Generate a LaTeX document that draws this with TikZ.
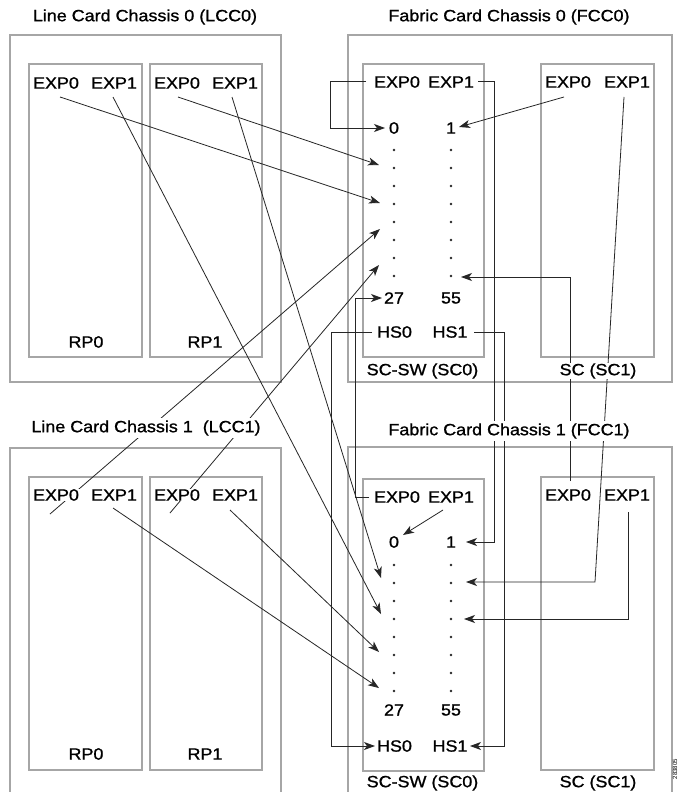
\documentclass[tikz,border=0pt]{standalone}
\usepackage{fontspec}
\setmainfont{Liberation Sans}
\newfontfamily\hvfont{Liberation Sans}[FakeBold=1]
\usetikzlibrary{arrows.meta}
\newcommand{\Wd}[1]{\scalebox{1.1}[1]{#1}}
\tikzset{
  box/.style={draw=gray!70, line width=1.2pt},
  wire/.style={draw=black!85, line width=0.8pt},
  arr/.style={wire, -{Stealth[length=11pt,width=8pt,inset=3pt]}},
  lbl/.style={fill=white, inner sep=0.6pt, font=\hvfont\fontsize{16.3}{19}\selectfont, text=black},
  ttl/.style={lbl, inner sep=2pt},
  portdot/.style={fill=black!85}
}
\begin{document}
\begin{tikzpicture}[x=1pt,y=-1pt]
\useasboundingbox (0,0) rectangle (684,792);
\fill[white] (0,0) rectangle (684,792);

% ---------- boxes ----------
\draw[box] (10,35) rectangle (281,382);
\draw[box] (29,64) rectangle (142,357);
\draw[box] (150,64) rectangle (262,357);
\draw[box] (348,35) rectangle (672,382);
\draw[box] (363,64) rectangle (484,357);
\draw[box] (541,64) rectangle (654,357);
\draw[box] (10,800) -- (10,448) -- (281,448) -- (281,800);
\draw[box] (29,477) rectangle (142,770);
\draw[box] (150,477) rectangle (262,770);
\draw[box] (348,800) -- (348,447) -- (672,447) -- (672,800);
\draw[box] (363,479) rectangle (484,771);
\draw[box] (541,477) rectangle (654,770);

% ---------- port dots ----------
\foreach \y in {150,168,...,276} {
  \fill[portdot] (394,\y) circle (1.3);
  \fill[portdot] (451,\y) circle (1.3);
}
\foreach \y in {565,583,...,691} {
  \fill[portdot] (394,\y) circle (1.3);
  \fill[portdot] (451,\y) circle (1.3);
}

% ---------- connector end points ----------
% LCC0 sources
\coordinate (a00) at (60,97);
\coordinate (a01) at (113,97);
\coordinate (a10) at (178,97);
\coordinate (a11) at (232,97);
% LCC1 sources
\coordinate (b00) at (50,514);
\coordinate (b01) at (113,508);
\coordinate (b10) at (170,513);
\coordinate (b11) at (230,510);
% FCC0 SC0 ports
\coordinate (p0) at (385,128);
\coordinate (pA) at (379,165);
\coordinate (pB) at (380,203);
\coordinate (pC) at (380,229);
\coordinate (pD) at (379,265);
\coordinate (p27) at (382,298);
\coordinate (p1) at (459,127);
\coordinate (pE) at (461,277);
% FCC1 SC0 ports
\coordinate (q0) at (403,535);
\coordinate (qA) at (381,578);
\coordinate (qB) at (381,614);
\coordinate (qC) at (379,652);
\coordinate (qD) at (379,688);
\coordinate (qhs0) at (375,746);
\coordinate (q1) at (466,542);
\coordinate (qE) at (466,582);
\coordinate (qF) at (464,619);
\coordinate (qhs1) at (470,746);
% FCC sources
\coordinate (f0e0) at (366,81);
\coordinate (f0e1) at (478,81);
\coordinate (f0s0) at (564,97);
\coordinate (f0s1) at (624,97);
\coordinate (f0s1b) at (595,582);
\coordinate (h00) at (372,332);
\coordinate (h01) at (474,332);
\coordinate (f1e0) at (369,497);
\coordinate (f1e1) at (443,510);
\coordinate (f1s0) at (570,481);
\coordinate (f1s1) at (628,512);

% ---------- connectors ----------
\draw[arr] (a10) -- (pA);
\draw[arr] (a00) -- (pB);
\draw[arr] (b00) -- (pC);
\draw[arr] (b10) -- (pD);
\draw[arr] (a11) -- (qA);
\draw[arr] (a01) -- (qB);
\draw[arr] (b11) -- (qC);
\draw[arr] (b01) -- (qD);

\draw[arr] (f0e0) -- ++(-36,0) |- (p0);
\draw[arr] (f0e1) -- ++(16,0) |- (q1);
\draw[arr] (f0s0) -- (p1);
\draw[arr] (f0s1) -- (f0s1b) -- (qE);
\draw[arr] (h00) -- ++(-41,0) |- (qhs0);
\draw[arr] (h01) -- ++(30,0) |- (qhs1);
\draw[arr] (f1e0) -- ++(-14,0) |- (p27);
\draw[arr] (f1e1) -- (q0);
\draw[arr] (f1s0) |- (pE);
\draw[arr] (f1s1) |- (qF);

% ---------- titles ----------
\node[ttl] (tL0) at (145,17) {\Wd{Line Card Chassis 0 (LCC0)}};
\node[ttl] (tF0) at (509,17) {\Wd{Fabric Card Chassis 0 (FCC0)}};
\node[ttl] (tL1) at (146,428) {\Wd{Line Card Chassis 1\ \ (LCC1)}};
\node[ttl] (tF1) at (509,431) {\Wd{Fabric Card Chassis 1 (FCC1)}};

% ---------- LCC0 labels ----------
\node[lbl] (l0e00) at (56,83) {\Wd{EXP0}};
\node[lbl] (l0e01) at (114,83) {\Wd{EXP1}};
\node[lbl] (l0e10) at (177,83) {\Wd{EXP0}};
\node[lbl] (l0e11) at (235,83) {\Wd{EXP1}};
\node[lbl] (l0rp0) at (86,342) {\Wd{RP0}};
\node[lbl] (l0rp1) at (205,342) {\Wd{RP1}};

% ---------- LCC1 labels ----------
\node[lbl] (l1e00) at (56,495) {\Wd{EXP0}};
\node[lbl] (l1e01) at (114,495) {\Wd{EXP1}};
\node[lbl] (l1e10) at (177,495) {\Wd{EXP0}};
\node[lbl] (l1e11) at (235,495) {\Wd{EXP1}};
\node[lbl] (l1rp0) at (86,754) {\Wd{RP0}};
\node[lbl] (l1rp1) at (205,754) {\Wd{RP1}};

% ---------- FCC0 labels ----------
\node[lbl] (f0x0) at (397,82) {\Wd{EXP0}};
\node[lbl] (f0x1) at (451,82) {\Wd{EXP1}};
\node[lbl] (f0n0) at (394,128) {\Wd{0}};
\node[lbl] (f0n1) at (451,128) {\Wd{1}};
\node[lbl] (f0n27) at (394,298) {\Wd{27}};
\node[lbl] (f0n55) at (451,298) {\Wd{55}};
\node[lbl] (f0hs0) at (394.5,332) {\Wd{HS0}};
\node[lbl] (f0hs1) at (450,332) {\Wd{HS1}};
\node[lbl] (f0sw) at (422.5,371) {\Wd{SC-SW (SC0)}};
\node[lbl] (f0y0) at (568,82) {\Wd{EXP0}};
\node[lbl] (f0y1) at (627,82) {\Wd{EXP1}};
\node[lbl] (f0sc) at (598,371) {\Wd{SC (SC1)}};

% ---------- FCC1 labels ----------
\node[lbl] (f1x0) at (397,497) {\Wd{EXP0}};
\node[lbl] (f1x1) at (451,497) {\Wd{EXP1}};
\node[lbl] (f1n0) at (394,542) {\Wd{0}};
\node[lbl] (f1n1) at (451,542) {\Wd{1}};
\node[lbl] (f1n27) at (394,710) {\Wd{27}};
\node[lbl] (f1n55) at (451,710) {\Wd{55}};
\node[lbl] (f1hs0) at (394.5,746) {\Wd{HS0}};
\node[lbl] (f1hs1) at (450,746) {\Wd{HS1}};
\node[lbl] (f1sw) at (422.5,783) {\Wd{SC-SW (SC0)}};
\node[lbl] (f1y0) at (568,495) {\Wd{EXP0}};
\node[lbl] (f1y1) at (627,495) {\Wd{EXP1}};
\node[lbl] (f1sc) at (598,783) {\Wd{SC (SC1)}};

% figure id
\node[rotate=90, inner sep=0pt, font=\fontsize{6}{7}\selectfont] (figid) at (675,769) {283805};
\end{tikzpicture}
\end{document}
